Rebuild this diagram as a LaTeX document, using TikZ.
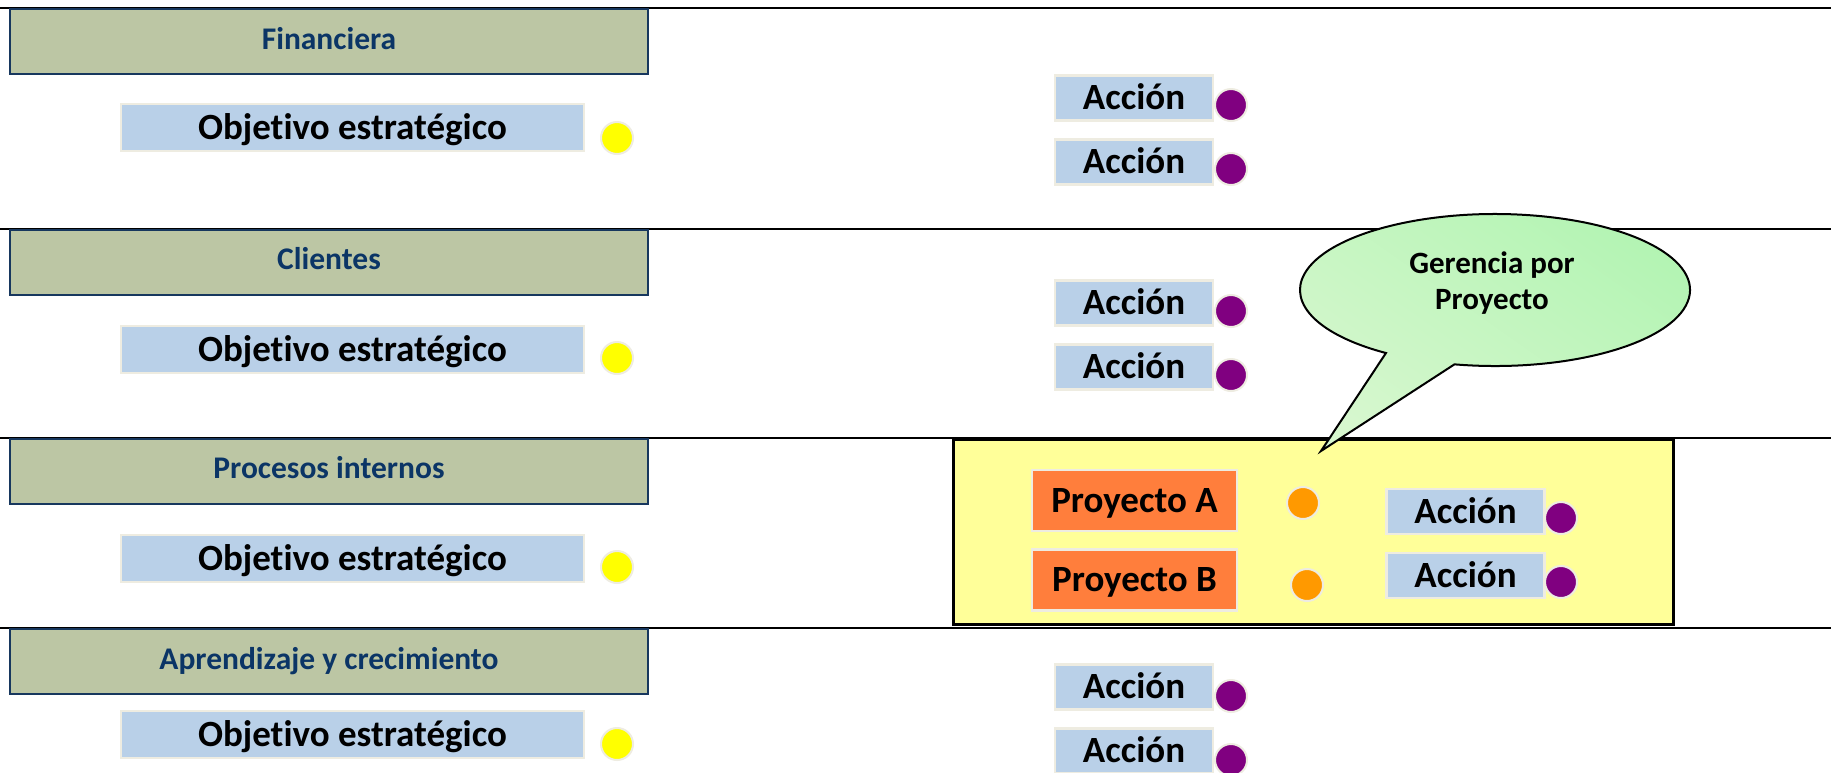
\documentclass[tikz,border=0pt]{standalone}
\usepackage{fontspec}
\setmainfont[Ligatures=NoCommon]{Carlito}

\definecolor{hdrfill}{HTML}{BCC6A4}
\definecolor{hdrline}{HTML}{17375E}
\definecolor{hdrtext}{HTML}{0B3566}
\definecolor{objblue}{HTML}{B9D0E8}
\definecolor{rim}{HTML}{EEECE1}
\definecolor{accpurple}{HTML}{800080}
\definecolor{objyellow}{HTML}{FFFF00}
\definecolor{projdot}{HTML}{FF9900}
\definecolor{projfill}{HTML}{FF7E3C}
\definecolor{bandyellow}{HTML}{FFFF99}
\definecolor{calloutA}{HTML}{B3F4B3}
\definecolor{calloutB}{HTML}{D6F7CE}

\tikzset{
  header/.style={rectangle, fill=hdrfill, draw=hdrline, line width=2pt,
    minimum width=638pt, minimum height=65pt, inner sep=0pt,
    text=hdrtext, font=\fontsize{31.5}{36}\selectfont\bfseries,
    text height=20pt, text depth=5pt},
  body/.style={rectangle, draw=rim, line width=2.5pt, inner sep=0pt,
    font=\fontsize{37}{44}\selectfont\bfseries, text=black,
    text height=24pt, text depth=1pt},
  objbox/.style={body, fill=objblue, minimum width=463pt, minimum height=47pt},
  accbox/.style={body, fill=objblue, minimum width=158pt, minimum height=45pt},
  projbox/.style={body, fill=projfill, minimum width=205pt, minimum height=61pt},
  dot/.style={circle, draw=rim, line width=2pt, inner sep=0pt, minimum size=32pt},
  objdot/.style={dot, fill=objyellow},
  accdot/.style={dot, fill=accpurple},
  projdot/.style={dot, fill=projdot},
  bandline/.style={draw=black, line width=2pt},
}

\begin{document}
\begin{tikzpicture}[x=1pt, y=1pt]
\useasboundingbox (0,0) rectangle (1831,-772);
\fill[white] (0,0) rectangle (1831,-772);

% band separators
\coordinate (l1a) at (0,-8);   \coordinate (l1b) at (1831,-8);
\coordinate (l2a) at (0,-229); \coordinate (l2b) at (1831,-229);
\coordinate (l3a) at (0,-438); \coordinate (l3b) at (1831,-438);
\coordinate (l4a) at (0,-628); \coordinate (l4b) at (1831,-628);
\draw[bandline] (l1a) -- (l1b);
\draw[bandline] (l2a) -- (l2b);
\draw[bandline] (l3a) -- (l3b);
\draw[bandline] (l4a) -- (l4b);

% perspective headers
\node[header] (hfin) at (329,-41.5)  {Financiera};
\node[header] (hcli) at (329,-262)   {Clientes};
\node[header] (hpro) at (329,-471)   {Procesos internos};
\node[header] (hapr) at (329,-661.5) {Aprendizaje y crecimiento};

% strategic objectives
\node[objbox] (ofin) at (352.5,-127.5) {Objetivo estratégico};
\node[objbox] (ocli) at (352.5,-349.5) {Objetivo estratégico};
\node[objbox] (opro) at (352.5,-558.5) {Objetivo estratégico};
\node[objbox] (oapr) at (352.5,-734.5) {Objetivo estratégico};
\node[objdot] (dfin) at (617,-138) {};
\node[objdot] (dcli) at (617,-358) {};
\node[objdot] (dpro) at (617,-567) {};
\node[objdot] (dapr) at (617,-744) {};

% actions
\node[accbox] (afin1) at (1134,-98)  {Acción};
\node[accbox] (afin2) at (1134,-162) {Acción};
\node[accbox] (acli1) at (1134,-303) {Acción};
\node[accbox] (acli2) at (1134,-367) {Acción};
\node[accbox] (aapr1) at (1134,-687) {Acción};
\node[accbox] (aapr2) at (1134,-751) {Acción};
\node[accdot] (pfin1) at (1231,-105) {};
\node[accdot] (pfin2) at (1231,-169) {};
\node[accdot] (pcli1) at (1231,-311) {};
\node[accdot] (pcli2) at (1231,-375) {};
\node[accdot] (papr1) at (1231,-696) {};
\node[accdot] (papr2) at (1231,-760) {};

% project management block
\node[rectangle, fill=bandyellow, draw=black, line width=3pt,
      minimum width=720pt, minimum height=185pt, inner sep=0pt]
      (block) at (1313,-531.5) {};
\node[projbox] (pa) at (1134.5,-500.5) {Proyecto A};
\node[projbox] (pb) at (1134.5,-580)   {Proyecto B};
\node[projdot] (dpa) at (1303,-503) {};
\node[projdot] (dpb) at (1307,-585) {};
\node[accbox] (apro1) at (1465.5,-511.5) {Acción};
\node[accbox] (apro2) at (1465.5,-575.5) {Acción};
\node[accdot] (ppro1) at (1561,-518) {};
\node[accdot] (ppro2) at (1561,-582) {};

% speech bubble: ellipse with a pointed tail
\coordinate (bc) at (1495,-290);
\coordinate (tip) at (1321,-451);
\shade[top color=calloutA, bottom color=calloutB, shading angle=-35,
       draw=black, line width=2pt, line join=miter]
  (bc) ++(258:195 and 76)
  arc[start angle=258, end angle=596, x radius=195, y radius=76]
  -- (tip) -- cycle;
\node[font=\fontsize{31}{36}\selectfont\bfseries, align=center,
      inner sep=0pt] (gtxt) at (1492,-283) {Gerencia por\\Proyecto};
\end{tikzpicture}
\end{document}
